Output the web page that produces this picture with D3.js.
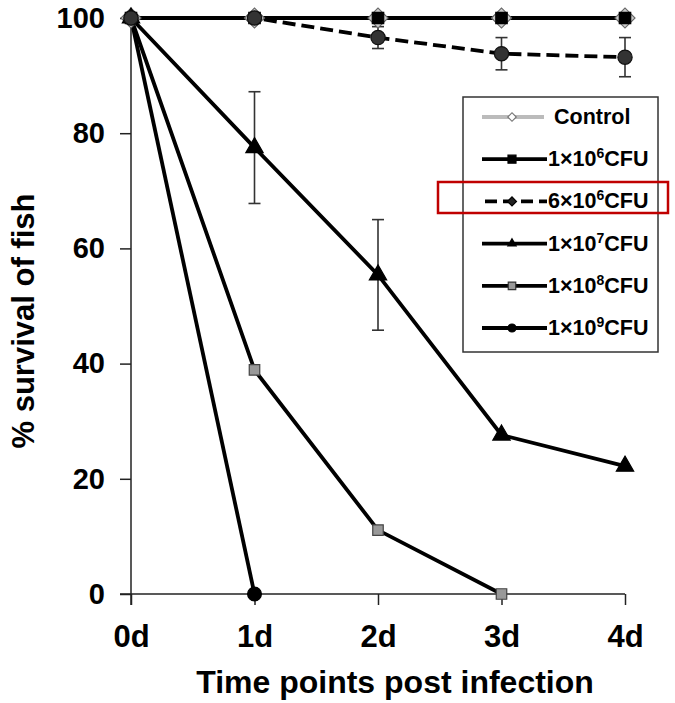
<!DOCTYPE html>
<html><head><meta charset="utf-8">
<script src="https://cdn.jsdelivr.net/npm/d3@7"></script>
<style>body{margin:0;background:#fff}svg{display:block}text{font-family:"Liberation Sans",Arial,sans-serif;font-weight:bold}</style>
</head><body>
<svg id="c" width="675" height="703"></svg>
<script>
const days = ["0d","1d","2d","3d","4d"];
const yTicks = [0,20,40,60,80,100];
const control = [100,100,100,100,100];
const cfu1e6 = [100,100,100,100,100];
const cfu6e6 = [100,100,96.6,93.8,93.2];
const cfu6e6Err = [0,0,1.9,2.8,3.4];
const cfu1e7 = [100,77.5,55.4,27.6,22.2];
const cfu1e7Err = [0,9.7,9.6,0,0];
const cfu1e8 = [100,38.9,11.1,0,null];
const cfu1e9 = [100,0,null,null,null];
const legendLabels = [["Control",null,""],["1×10","6","CFU"],["6×10","6","CFU"],["1×10","7","CFU"],["1×10","8","CFU"],["1×10","9","CFU"]];

const svg = d3.select("#c");
const x = d3.scalePoint().domain(days).range([131,625]);
const y = d3.scaleLinear().domain([0,100]).range([594,18]);
const X0 = x(days[0]);

// axes
const yAxis = svg.append("g").attr("transform",`translate(${X0},0)`)
  .call(d3.axisLeft(y).tickValues(yTicks).tickSize(11).tickPadding(15));
yAxis.select(".domain").attr("stroke","#222").attr("stroke-width",1.5).attr("d","M0,18V605");
yAxis.selectAll(".tick line").attr("stroke","#222").attr("stroke-width",1.5);
yAxis.selectAll(".tick text").attr("font-size",29).attr("fill","#000").attr("font-family","'Liberation Sans',Arial,sans-serif");

const xAxis = svg.append("g").attr("transform","translate(0,594)")
  .call(d3.axisBottom(x).tickSize(11).tickPadding(20));
xAxis.select(".domain").attr("stroke","#222").attr("stroke-width",1.5).attr("d",`M${X0-11},0H625`);
xAxis.selectAll(".tick line").attr("stroke","#222").attr("stroke-width",1.5);
xAxis.selectAll(".tick text").attr("font-size",31).attr("fill","#000").attr("font-family","'Liberation Sans',Arial,sans-serif");

svg.append("text").attr("x",395).attr("y",693).attr("text-anchor","middle").attr("font-size",32).text("Time points post infection");
svg.append("text").attr("transform","translate(34,321) rotate(-90)").attr("text-anchor","middle").attr("font-size",31).text("% survival of fish");

const pts = arr => arr.map((v,i)=>[x(days[i]),v]).filter(d=>d[1]!==null).map(d=>[d[0],y(d[1])]);
const line = d3.line();

function errorBars(vals, errs){
  const g = svg.append("g").attr("stroke","#333").attr("stroke-width",1.6);
  vals.forEach((v,i)=>{
    if(!errs[i]) return;
    const cx = x(days[i]);
    g.append("line").attr("x1",cx).attr("x2",cx).attr("y1",y(Math.min(100,v+errs[i]))).attr("y2",y(v-errs[i]));
    [v+errs[i], v-errs[i]].forEach(e=>{ if(e<=100) g.append("line").attr("x1",cx-6).attr("x2",cx+6).attr("y1",y(e)).attr("y2",y(e)); });
  });
}

const sqSym = s => d3.symbol().type(d3.symbolSquare).size(s);
const series = [
  {vals:control, stroke:"#aaa", w:3, dash:null, sym:sqSym(200), rot:45, fill:"#ccc", mstroke:"#666"},
  {vals:cfu1e9, stroke:"#000", w:3.8, dash:null, sym:d3.symbol().type(d3.symbolCircle).size(150), fill:"#000", mstroke:"#000"},
  {vals:cfu1e8, stroke:"#000", w:3.8, dash:null, sym:sqSym(110), fill:"#999", mstroke:"#444"},
  {vals:cfu1e7, stroke:"#000", w:3.8, dash:null, sym:d3.symbol().type(d3.symbolTriangle).size(130), fill:"#000", mstroke:"#000", err:cfu1e7Err},
  {vals:cfu1e6, stroke:"#000", w:3.8, dash:null, sym:sqSym(130), fill:"#000", mstroke:"#000"},
  {vals:cfu6e6, stroke:"#000", w:3.8, dash:"13,6", sym:d3.symbol().type(d3.symbolCircle).size(160), fill:"#333", mstroke:"#111", err:cfu6e6Err}
];
series.forEach(s=>{ if(s.err) errorBars(s.vals,s.err); });
series.forEach(s=>{
  svg.append("path").attr("d",line(pts(s.vals))).attr("fill","none").attr("stroke",s.stroke).attr("stroke-width",s.w).attr("stroke-dasharray",s.dash);
});
series.forEach(s=>{
  svg.append("g").selectAll("path").data(pts(s.vals)).join("path")
    .attr("transform",d=>`translate(${d[0]},${d[1]}) rotate(${s.rot||0})`).attr("d",s.sym)
    .attr("fill",s.fill).attr("stroke",s.mstroke).attr("stroke-width",1.2);
});

// legend
const lg = svg.append("g");
lg.append("rect").attr("x",463).attr("y",97).attr("width",195).attr("height",255).attr("fill","#fff").attr("stroke","#333").attr("stroke-width",1.5);
const legendStyle = [
  {stroke:"#bbb", dash:null, sym:sqSym(36), rot:45, fill:"#fff", ms:"#777"},
  {stroke:"#000", dash:null, sym:sqSym(64), fill:"#000", ms:"#000"},
  {stroke:"#000", dash:"12,6", sym:sqSym(40), rot:45, fill:"#222", ms:"#000"},
  {stroke:"#000", dash:null, sym:d3.symbol().type(d3.symbolTriangle).size(30), fill:"#000", ms:"#000"},
  {stroke:"#000", dash:null, sym:sqSym(56), fill:"#999", ms:"#333"},
  {stroke:"#000", dash:null, sym:d3.symbol().type(d3.symbolCircle).size(50), fill:"#000", ms:"#000"}
];
const ly = d3.scalePoint().domain(d3.range(legendLabels.length)).range([117,328]);
legendLabels.forEach((lab,i)=>{
  const yy = ly(i), st = legendStyle[i];
  const x0 = i===2?485:482, x1 = i===0?544:547;
  lg.append("line").attr("x1",x0).attr("x2",x1).attr("y1",yy).attr("y2",yy)
    .attr("stroke",st.stroke).attr("stroke-width",3.8).attr("stroke-dasharray",st.dash);
  lg.append("path").attr("transform",`translate(512,${yy}) rotate(${st.rot||0})`).attr("d",st.sym).attr("fill",st.fill).attr("stroke",st.ms).attr("stroke-width",1.2);
  const t = lg.append("text").attr("x",i===0?554:548).attr("y",yy+7).attr("font-size",21.5).attr("fill","#000");
  t.append("tspan").text(lab[0]);
  if(lab[1]){ t.append("tspan").attr("font-size",14).attr("dy",-8).text(lab[1]); t.append("tspan").attr("dy",8).text(lab[2]); }
});
svg.append("rect").attr("x",438).attr("y",182).attr("width",230).attr("height",31).attr("fill","none").attr("stroke","#c00000").attr("stroke-width",2.5);
</script>
</body></html>
